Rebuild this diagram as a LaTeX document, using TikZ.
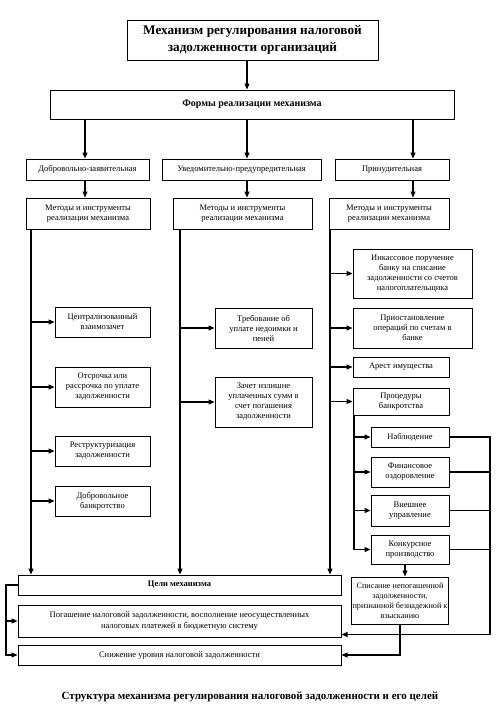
\documentclass[tikz,border=0pt]{standalone}
\usepackage{fontspec}
\setmainfont{Liberation Serif}
\usetikzlibrary{arrows.meta,calc}
\begin{document}
\begin{tikzpicture}[x=1pt,y=-1pt,
  bx/.style={draw,line width=1pt,align=center,inner sep=1pt,font=\fontsize{8.5}{10}\selectfont},
  arr/.style={line width=1.1pt,-{Triangle[length=6pt,width=5pt]}},
  ln/.style={line width=1.1pt}]
\useasboundingbox (0,0) rectangle (496,707);
% top
\node[bx,minimum width=251pt,minimum height=40pt,font=\bfseries\fontsize{13.2}{17}\selectfont] (title) at (252.5,40) {Механизм регулирования налоговой\\задолженности организаций};
\node[bx,minimum width=404pt,minimum height=29pt,font=\bfseries\fontsize{10}{11}\selectfont] (forms) at (252,104.5) {Формы реализации механизма};
\node[bx,minimum width=123pt,minimum height=21pt] (f1) at (87.5,169.5) {Добровольно-заявительная};
\node[bx,minimum width=159pt,minimum height=21pt] (f2) at (241.5,169.5) {Уведомительно-предупредительная};
\node[bx,minimum width=114pt,minimum height=21pt] (f3) at (392,169.5) {Принудительная};
\node[bx,minimum width=124pt,minimum height=31pt] (m1) at (88,213.5) {Методы и инструменты\\реализации механизма};
\node[bx,minimum width=139pt,minimum height=31pt] (m2) at (242.5,213.5) {Методы и инструменты\\реализации механизма};
\node[bx,minimum width=120pt,minimum height=31pt] (m3) at (389,213.5) {Методы и инструменты\\реализации механизма};
% left column
\node[bx,minimum width=95pt,minimum height=30pt] (cz) at (102.5,322) {Централизованный\\взаимозачет};
\node[bx,minimum width=95pt,minimum height=40pt] (ot) at (102.5,387) {Отсрочка или\\рассрочка по уплате\\задолженности};
\node[bx,minimum width=95pt,minimum height=30pt] (rs) at (102.5,451) {Реструктуризация\\задолженности};
\node[bx,minimum width=95pt,minimum height=30pt] (db) at (102.5,501) {Добровольное\\банкротство};
% middle column
\node[bx,minimum width=97pt,minimum height=40pt] (tr) at (263.5,328) {Требование об\\уплате недоимки и\\пеней};
\node[bx,minimum width=97pt,minimum height=50pt] (zc) at (263.5,402) {Зачет излишне\\уплаченных сумм в\\счет погашения\\задолженности};
% right column
\node[bx,minimum width=119pt,minimum height=49pt] (ik) at (412.5,273.5) {Инкассовое поручение\\банку на списание\\задолженности со счетов\\налогоплательщика};
\node[bx,minimum width=119pt,minimum height=40pt] (pr) at (412.5,328) {Приостановление\\операций по счетам в\\банке};
\node[bx,minimum width=96pt,minimum height=20pt] (ar) at (401,367) {Арест имущества};
\node[bx,minimum width=96pt,minimum height=27pt] (pb) at (401,401.5) {Процедуры\\банкротства};
\node[bx,minimum width=78pt,minimum height=20pt] (nb) at (410,437) {Наблюдение};
\node[bx,minimum width=78pt,minimum height=30pt] (fo) at (410,472) {Финансовое\\оздоровление};
\node[bx,minimum width=78pt,minimum height=31pt] (vu) at (410,510.5) {Внешнее\\управление};
\node[bx,minimum width=78pt,minimum height=29pt] (kp) at (410,549.5) {Конкурсное\\производство};
\node[bx,minimum width=96pt,minimum height=47pt,font=\fontsize{8.2}{10}\selectfont] (sp) at (400,600.5) {Списание непогашенной\\задолженности,\\признанной безнадежной к\\взысканию};
% goals
\node[bx,minimum width=323pt,minimum height=20pt,font=\bfseries\fontsize{8.5}{10}\selectfont] (tsel) at (179.5,585) {Цели механизма};
\node[bx,minimum width=323pt,minimum height=32pt] (pg) at (179.5,621) {Погашение налоговой задолженности, восполнение неосуществленных\\налоговых платежей в бюджетную систему};
\node[bx,minimum width=323pt,minimum height=20pt] (sn) at (179.5,655) {Снижение уровня налоговой задолженности};
\node[font=\bfseries\fontsize{11}{12}\selectfont] (cap) at (250,697) {Структура механизма регулирования налоговой задолженности и его целей};
% helper coordinates
\coordinate (xA) at (247,0);
\coordinate (x1) at (85,0);
\coordinate (x3) at (413,0);
\coordinate (c1) at (31,0);
\coordinate (c2) at (180,0);
\coordinate (c3) at (330,0);
\coordinate (c4) at (354,0);
\coordinate (xr) at (490,0);
\coordinate (xl) at (6,0);
\coordinate (xs) at (405,0);
\coordinate (xs2) at (400,0);
\coordinate (pgin) at ($(pg.south east)+(0,-3)$);
% connectors
\draw[arr] (title.south -| xA) -- (forms.north -| xA);
\draw[arr] (forms.south -| x1) -- (f1.north -| x1);
\draw[arr] (forms.south -| xA) -- (f2.north -| xA);
\draw[arr] (forms.south -| x3) -- (f3.north -| x3);
\draw[arr] (f1.south -| x1) -- (m1.north -| x1);
\draw[arr] (f2.south -| xA) -- (m2.north -| xA);
\draw[arr] (f3.south -| x3) -- (m3.north -| x3);
\draw[arr] (m1.south -| c1) -- (tsel.north -| c1);
\draw[arr] (m2.south -| c2) -- (tsel.north -| c2);
\draw[arr] (m3.south -| c3) -- (tsel.north -| c3);
\foreach \n in {cz,ot,rs,db} \draw[arr] (\n.west -| c1) -- (\n.west);
\foreach \n in {tr,zc} \draw[arr] (\n.west -| c2) -- (\n.west);
\foreach \n in {ik,pr,ar,pb} \draw[arr] (\n.west -| c3) -- (\n.west);
\draw[ln] (pb.south -| c4) -- (kp.west -| c4);
\foreach \n in {nb,fo,vu,kp} \draw[arr] (\n.west -| c4) -- (\n.west);
\draw[arr] (nb.east) -- (nb.east -| xr) -- (pgin -| xr) -- (pgin);
\foreach \n in {fo,vu,kp} \draw[ln] (\n.east) -- (\n.east -| xr);
\draw[arr] (kp.south -| xs) -- (sp.north -| xs);
\draw[arr] (sp.south -| xs2) -- (sn.east -| xs2) -- (sn.east);
\draw[arr] (tsel.west) -- (tsel.west -| xl) -- (sn.west -| xl) -- (sn.west);
\draw[arr] (pg.west -| xl) -- (pg.west);
\end{tikzpicture}
\end{document}
